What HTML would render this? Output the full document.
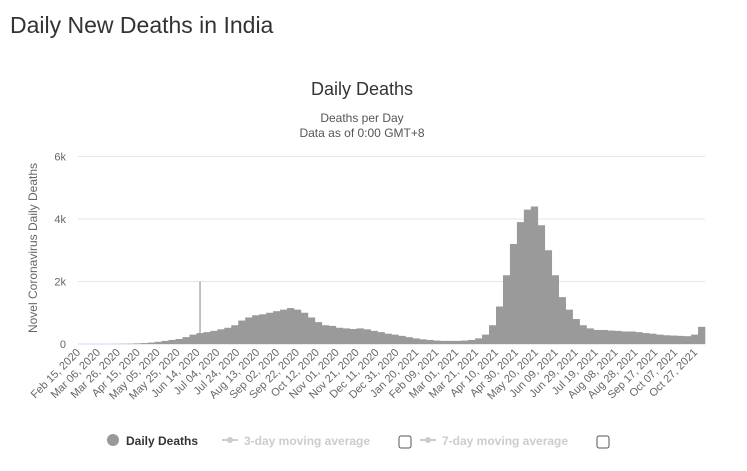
<!DOCTYPE html>
<html><head><meta charset="utf-8"><style>
body{margin:0;width:747px;height:471px;background:#fff;font-family:"Liberation Sans",sans-serif;overflow:hidden}
h1{position:absolute;left:10px;top:12px;margin:0;font-weight:normal;font-size:23px;color:#333}
</style></head><body>
<h1>Daily New Deaths in India</h1>
<svg id="chart" width="747" height="471" style="position:absolute;left:0;top:0" xmlns="http://www.w3.org/2000/svg">
<text x="362" y="95" text-anchor="middle" font-size="18" fill="#333">Daily Deaths</text>
<text x="362" y="122" text-anchor="middle" font-size="12" fill="#555">Deaths per Day</text>
<text x="362" y="137" text-anchor="middle" font-size="12" fill="#555">Data as of 0:00 GMT+8</text>
<text transform="translate(37,248) rotate(-90)" text-anchor="middle" font-size="12" fill="#666">Novel Coronavirus Daily Deaths</text>
<g id="grid"></g><g id="bars"></g><g id="xlabels"></g>
<g font-size="12" font-weight="bold">
<g><circle cx="113" cy="440" r="6" fill="#999"/><text x="126" y="445" fill="#333">Daily Deaths</text></g>
<g><line x1="222" y1="440" x2="238" y2="440" stroke="#ccc" stroke-width="2"/><circle cx="230" cy="440" r="3" fill="#ccc"/><text x="244" y="445" fill="#ccc">3-day moving average</text></g>
<rect x="399" y="436" width="12" height="12" rx="2" fill="#fff" stroke="#555"/>
<g><line x1="420" y1="440" x2="436" y2="440" stroke="#ccc" stroke-width="2"/><circle cx="428" cy="440" r="3" fill="#ccc"/><text x="442" y="445" fill="#ccc">7-day moving average</text></g>
<rect x="597" y="436" width="12" height="12" rx="2" fill="#fff" stroke="#555"/>
</g>
</svg>
<script>
// weekly average daily deaths, weeks starting Feb 15, 2020
const weeklyDeaths=[0,0,0,0,0,2,5,
10,20,30,45, 70,100,130,160, 220,300,350,380, 420,470,520,600,
750,850,920,950, 1000,1050,1100,1150, 1100,1000,850,700,
600,580,520,500, 480,500,470,420, 380,330,300,260,
220,180,150,130, 110,100,100,100, 110,130,180,300,
600,1200,2200,3200, 3900,4300,4400,3800, 3000,2200,1500,1100,
800,600,500,450, 450,430,420,400, 400,380,350,330,
300,280,270,260, 250,300,550];
const spikeDays=[122];
const spikeValues=[2000];
const yTicks=[0,2000,4000,6000];
const yTickLabels=["0","2k","4k","6k"];
const xTickLabels=["Feb 15, 2020","Mar 06, 2020","Mar 26, 2020","Apr 15, 2020","May 05, 2020","May 25, 2020","Jun 14, 2020","Jul 04, 2020","Jul 24, 2020","Aug 13, 2020","Sep 02, 2020","Sep 22, 2020","Oct 12, 2020","Nov 01, 2020","Nov 21, 2020","Dec 11, 2020","Dec 31, 2020","Jan 20, 2021","Feb 09, 2021","Mar 01, 2021","Mar 21, 2021","Apr 10, 2021","Apr 30, 2021","May 20, 2021","Jun 09, 2021","Jun 29, 2021","Jul 19, 2021","Aug 08, 2021","Aug 28, 2021","Sep 17, 2021","Oct 07, 2021","Oct 27, 2021"];
const X0=78,W=627,DAYS=630,Y0=344,YH=187.5,YMAX=6000;
const x=d=>X0+d*W/DAYS, y=v=>Y0-v/YMAX*YH;
const NS="http://www.w3.org/2000/svg";
function mk(t,a,p){const e=document.createElementNS(NS,t);for(const k in a)e.setAttribute(k,a[k]);document.getElementById(p).appendChild(e);return e;}
yTicks.forEach((v,i)=>{
 const l=mk('line',{x1:X0,x2:X0+W,y1:y(v),y2:y(v),stroke:i?'#e6e6e6':'#ccd6eb'},'grid');
 
 
 const t=mk('text',{x:X0-12,y:y(v)+4,'text-anchor':'end','font-size':11,fill:'#666'},'grid');
 t.textContent=yTickLabels[i];
 
 
});
weeklyDeaths.forEach((v,w)=>{
 const r=mk('rect',{x:x(w*7),y:y(v),width:x(w*7+7)-x(w*7)+0.3,height:Y0-y(v),fill:'#9a9a9a'},'bars');
 
 
});
spikeDays.forEach((d,i)=>{
 const r=mk('rect',{x:x(d),y:y(spikeValues[i]),width:1.2,height:Y0-y(spikeValues[i]),fill:'#9a9a9a'},'bars');
 
 
});
xTickLabels.forEach((s,i)=>{
 const px=x(i*20)+3;
 const t=mk('text',{transform:`translate(${px},353) rotate(-45)`,'text-anchor':'end','font-size':11,fill:'#666'},'xlabels');
 t.textContent=s;
 
 
});
</script>
</body></html>
